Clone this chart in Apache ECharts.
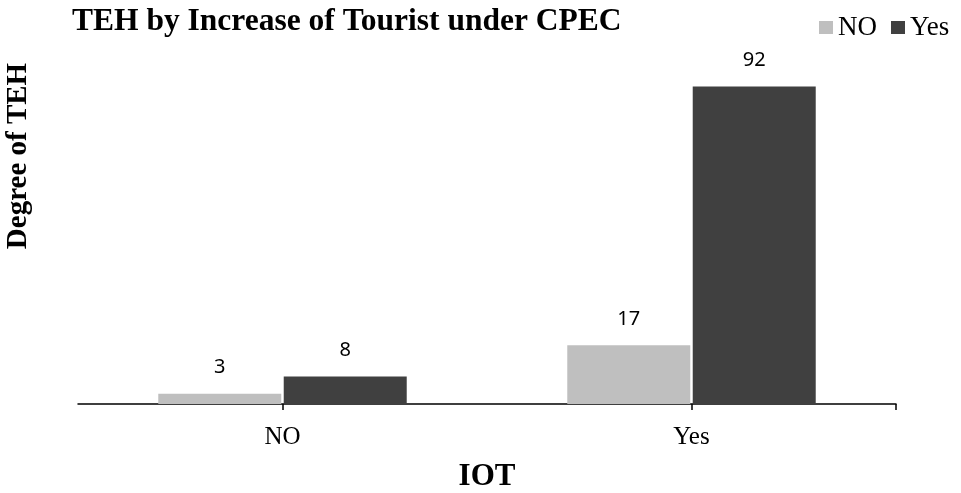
<!DOCTYPE html>
<html>
<head>
<meta charset="utf-8">
<script src="https://cdn.jsdelivr.net/npm/echarts@6/dist/echarts.min.js"></script>
<style>html,body{margin:0;padding:0;background:#fff}#c{width:961px;height:493px}</style>
</head>
<body>
<div id="c"></div>
<script>
const categories = ['NO', 'Yes'];
const seriesNames = ['NO', 'Yes'];
const valuesNO = [3, 17];
const valuesYes = [8, 92];
const titleText = 'TEH by Increase of Tourist under CPEC';
const xTitle = 'IOT';
const yTitle = 'Degree of TEH';

const serif = '"Liberation Serif", "Times New Roman", serif';
const chart = echarts.init(document.getElementById('c'), null, {renderer: 'canvas'});
chart.setOption({
  animation: false,
  backgroundColor: '#fff',
  title: {
    text: titleText, left: 67, top: 1,
    textStyle: {fontFamily: serif, fontWeight: 'bold', fontSize: 31.5, color: '#000'}
  },
  legend: {
    data: seriesNames, left: 819, top: 14, padding: 0, itemGap: 14,
    itemWidth: 14, itemHeight: 13, icon: 'rect',
    textStyle: {fontFamily: serif, fontSize: 27, color: '#000'}
  },
  grid: {left: 78, right: 65, top: 59, bottom: 89, containLabel: false, outerBoundsMode: 'none'},
  graphic: [{
    type: 'text', x: 19, y: 156, rotation: Math.PI / 2,
    style: {text: yTitle, fontFamily: serif, fontWeight: 'bold', fontSize: 29, fill: '#000',
      align: 'center', verticalAlign: 'middle'}
  }],
  xAxis: [{
    type: 'category', data: categories,
    name: xTitle, nameLocation: 'middle', nameGap: 57,
    nameTextStyle: {fontFamily: serif, fontWeight: 'bold', fontSize: 31, color: '#000'},
    axisLine: {show: true, lineStyle: {color: '#000', width: 1.5}},
    axisTick: {show: false},
    axisLabel: {fontFamily: serif, fontSize: 25, color: '#000', margin: 21}
  }, {
    type: 'category', data: ['', '', '', '', ''], boundaryGap: false, position: 'bottom',
    axisLine: {show: false}, axisLabel: {show: false}, splitLine: {show: false},
    axisTick: {show: true, length: 6, interval: function (i) { return i === 1 || i === 3 || i === 4; },
      lineStyle: {color: '#000', width: 1.5}}
  }],
  yAxis: {
    type: 'value', min: 0, max: 100,
    show: false, splitLine: {show: false}
  },
  series: [
    {name: seriesNames[0], type: 'bar', data: valuesNO, barWidth: 123, barGap: '2%',
     itemStyle: {color: '#BFBFBF'},
     label: {show: true, position: 'top', distance: 16, fontFamily: '"Noto Sans", sans-serif', fontSize: 20, color: '#000'}},
    {name: seriesNames[1], type: 'bar', data: valuesYes, barWidth: 123, barGap: '2%',
     itemStyle: {color: '#404040'},
     label: {show: true, position: 'top', distance: 16, fontFamily: '"Noto Sans", sans-serif', fontSize: 20, color: '#000'}}
  ]
});
</script>
</body>
</html>
